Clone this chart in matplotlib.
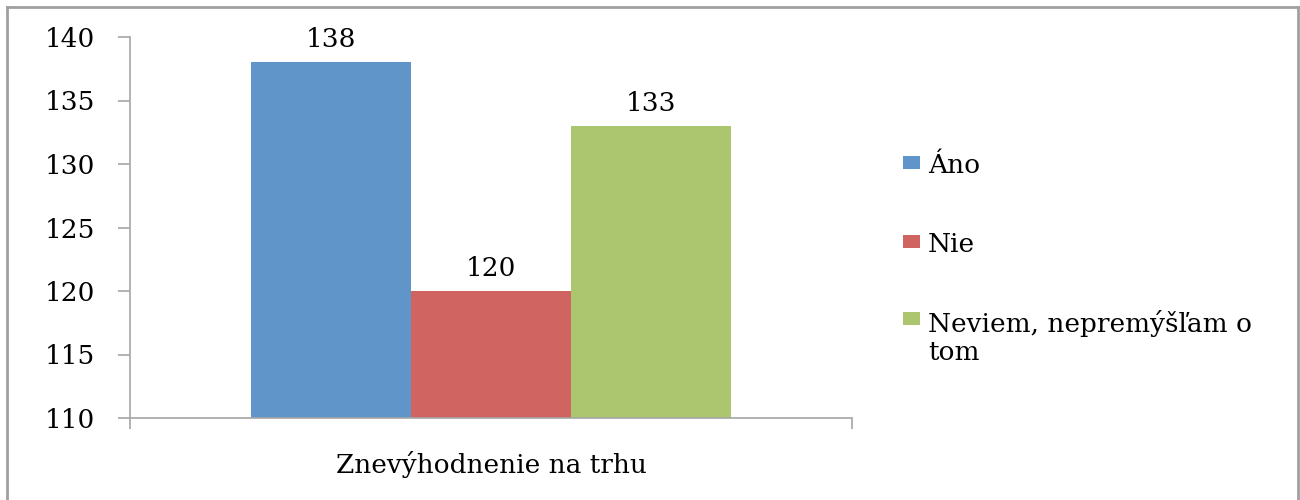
import matplotlib
matplotlib.use('Agg')
import matplotlib.pyplot as plt
from matplotlib.patches import Rectangle
from matplotlib.lines import Line2D

# data
category = 'Znevýhodnenie na trhu'
series_names = ['Áno', 'Nie', 'Neviem, nepremýšľam o\ntom']
values = [138, 120, 133]
colors = ['#5F95C9', '#CF6460', '#ABC66E']
y_ticks = [110, 115, 120, 125, 130, 135, 140]

plt.rcParams['font.family'] = ['DejaVu Serif']
fs = 19

fig = plt.figure(figsize=(13, 5), dpi=100)
W, H = 1300.0, 500.0
ax = fig.add_axes([130 / W, 1 - 418 / H, (852 - 130) / W, (418 - 37) / H])

bw = 160 / 722.0
for i, (v, c) in enumerate(zip(values, colors)):
    x = (i - 1) * bw
    ax.bar(x, v - 110, bottom=110, width=bw, color=c, edgecolor='none')
    ax.annotate(str(v), (x, v), xytext=(0, 11), textcoords='offset points',
                ha='center', va='baseline', fontsize=fs)

ax.set_xlim(-0.5, 0.5)
ax.set_ylim(110, 140)
ax.set_yticks(y_ticks)
ax.set_xticks([0])
ax.set_xticklabels([category])
ax.set_xticks([-0.5, 0.5], minor=True)

for s in ['top', 'right']:
    ax.spines[s].set_visible(False)
for s in ['left', 'bottom']:
    ax.spines[s].set_color('#A6A6A6')
    ax.spines[s].set_linewidth(1.2)

ax.tick_params(axis='y', direction='out', length=9, width=1.2, color='#A6A6A6', pad=16, labelsize=fs)
ax.tick_params(axis='x', which='major', length=0, pad=24, labelsize=fs)
ax.tick_params(axis='x', which='minor', direction='out', length=8, width=1.2, color='#A6A6A6')

# legend drawn by hand to keep Excel-like layout (square at first line, text anchored at last baseline)
square_base = [173, 252, 329]
text_base = [173, 252, 360]
for name, c, sb, tb in zip(series_names, colors, square_base, text_base):
    fig.add_artist(Rectangle((903 / W, 1 - (sb - 4) / H), 17 / W, 13 / H,
                             transform=fig.transFigure, facecolor=c, edgecolor='none'))
    fig.text(928 / W, 1 - tb / H, name, va='baseline', ha='left', fontsize=fs, linespacing=1.15)

# chart border
border = dict(color='#A0A0A0', linewidth=2, transform=fig.transFigure)
fig.add_artist(Line2D([7 / W, 7 / W], [0, 1 - 7 / H], **border))
fig.add_artist(Line2D([7 / W, 1298 / W], [1 - 7 / H, 1 - 7 / H], **border))
fig.add_artist(Line2D([1298 / W, 1298 / W], [0, 1 - 7 / H], **border))

fig.savefig('out.png', dpi=100)
